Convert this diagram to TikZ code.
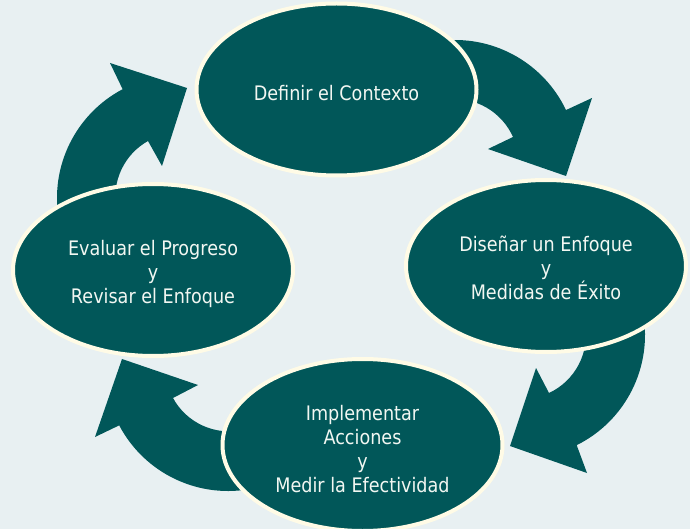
\documentclass[tikz,border=0pt]{standalone}
\usepackage{fontspec}
\setmainfont[FakeStretch=0.88]{DejaVu Sans}
\usetikzlibrary{shapes.geometric}

\definecolor{bgblue}{RGB}{232,240,242}
\definecolor{cycleteal}{RGB}{1,87,89}
\definecolor{rimcream}{RGB}{255,251,230}
\definecolor{labelwhite}{RGB}{242,247,242}

\tikzset{
  stage/.style={ellipse, draw=rimcream, line width=4pt, fill=cycleteal,
    minimum width=280, minimum height=172, inner sep=0pt},
  stagetext/.style={text=labelwhite, inner sep=0pt, align=center,
    font=\fontsize{20}{24.3}\selectfont},
  cyclearrow/.style={fill=cycleteal}
}

\begin{document}
\begin{tikzpicture}[x=1pt,y=-1pt]
  \def\rout{123}
  \def\rin{64}

  % Background
  \fill[bgblue] (0,0) rectangle (690,529);
  \useasboundingbox (0,0) rectangle (690,529);

  % Curved arrows (under the ellipses)
  % top right
  \fill[cyclearrow] (455,163) ++(-95:\rout)
    arc[start angle=-95, end angle=-25.5, radius=\rout]
    -- (592,98) -- (566,176) -- (488,149) -- (513,137)
    arc[start angle=-24, end angle=-95, radius=\rin] -- cycle;
  % bottom right
  \fill[cyclearrow] (522,335) ++(-10:\rout)
    arc[start angle=-10, end angle=63.6, radius=\rout]
    -- (587,473) -- (510,446) -- (536,368) -- (549,393)
    arc[start angle=65, end angle=-10, radius=\rin] -- cycle;
  % bottom left
  \fill[cyclearrow] (228,368) ++(78:\rout)
    arc[start angle=78, end angle=152.2, radius=\rout]
    -- (95,437) -- (122,359) -- (198,385) -- (173,398)
    arc[start angle=151.4, end angle=78, radius=\rin] -- cycle;
  % top left
  \fill[cyclearrow] (180,198) ++(170:\rout)
    arc[start angle=170, end angle=242.2, radius=\rout]
    -- (110,63) -- (187,88) -- (162,166) -- (148,141)
    arc[start angle=240.7, end angle=170, radius=\rin] -- cycle;

  % Stages
  \node[stage] (context) at (336.5,89.5) {};
  \node[stage] (design) at (546,266) {};
  \node[stage] (act) at (362.5,445) {};
  \node[stage] (review) at (153,270) {};

  % Stage texts
  \node[stagetext] (contexttxt) at ([yshift=-3.5pt]context.center) {Definir el Contexto};
  \node[stagetext] (designtxt) at ([yshift=-2pt]design.center) {Diseñar un Enfoque\\y\\Medidas de Éxito};
  \node[stagetext] (acttxt) at ([yshift=-4pt]act.center) {Implementar\\Acciones\\y\\Medir la Efectividad};
  \node[stagetext] (reviewtxt) at ([yshift=-4pt]review.center) {Evaluar el Progreso\\y\\Revisar el Enfoque};
\end{tikzpicture}
\end{document}
